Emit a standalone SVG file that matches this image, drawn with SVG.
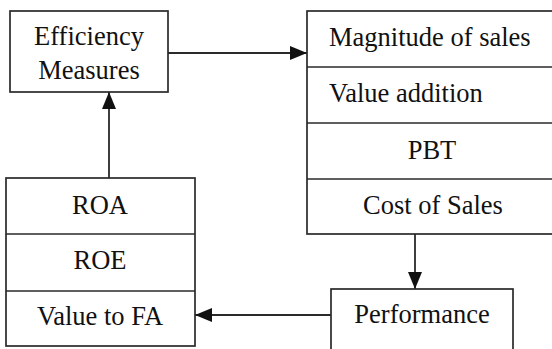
<svg xmlns="http://www.w3.org/2000/svg" width="552" height="349" viewBox="0 0 552 349">
<style>
.box{fill:#fff;stroke:#2a2a2a;stroke-width:1.7}
.sep{stroke:#2a2a2a;stroke-width:1.7}
.t{font-size:26.5px;fill:#111}
.c{text-anchor:middle}
.conn{stroke:#2a2a2a;stroke-width:1.8;fill:none}
</style>
<defs>
<marker id="ah" markerUnits="userSpaceOnUse" markerWidth="17" markerHeight="14" refX="17" refY="7" orient="auto">
<path d="M0,0 L17,7 L0,14 Z" fill="#111"/>
</marker>
</defs>
<rect width="552" height="349" fill="#fff"/>
<g id="connectors">
<line class="conn" x1="168" y1="53" x2="307" y2="53" marker-end="url(#ah)"/>
<line class="conn" x1="109" y1="178" x2="109" y2="92" marker-end="url(#ah)"/>
<line class="conn" x1="415" y1="234" x2="415" y2="289" marker-end="url(#ah)"/>
<line class="conn" x1="331" y1="315" x2="195" y2="315" marker-end="url(#ah)"/>
</g>
<g font-family="'Liberation Serif', serif">
<g id="efficiency">
<rect class="box" x="10" y="11" width="158" height="81"/>
<text class="t c" x="89" y="45">Efficiency</text>
<text class="t c" x="89" y="79">Measures</text>
</g>
<g id="drivers">
<rect class="box" x="307" y="11" width="260" height="223"/>
<line class="sep" x1="307" y1="67" x2="567" y2="67"/>
<line class="sep" x1="307" y1="123" x2="567" y2="123"/>
<line class="sep" x1="307" y1="179" x2="567" y2="179"/>
<text class="t" x="329" y="46">Magnitude of sales</text>
<text class="t" x="329" y="102">Value addition</text>
<text class="t c" x="432" y="159">PBT</text>
<text class="t c" x="433" y="214">Cost of Sales</text>
</g>
<g id="returns">
<rect class="box" x="6" y="178" width="189" height="168"/>
<line class="sep" x1="6" y1="234" x2="195" y2="234"/>
<line class="sep" x1="6" y1="291" x2="195" y2="291"/>
<text class="t c" x="100" y="214">ROA</text>
<text class="t c" x="100" y="269">ROE</text>
<text class="t c" x="100" y="325">Value to FA</text>
</g>
<g id="performance">
<rect class="box" x="331" y="289" width="182" height="80"/>
<text class="t c" x="422" y="323">Performance</text>
</g>
</g>
</svg>
